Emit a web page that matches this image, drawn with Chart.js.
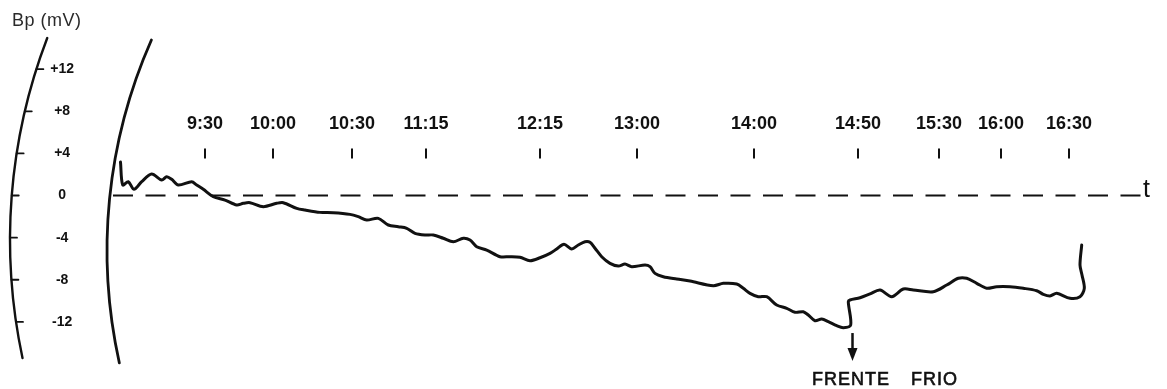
<!DOCTYPE html>
<html>
<head>
<meta charset="utf-8">
<script src="https://cdn.jsdelivr.net/npm/chart.js@4.4.1/dist/chart.umd.min.js"></script>
<style>
  html, body { margin: 0; padding: 0; background: #fff; }
  #wrap { width: 1167px; height: 389px; }
</style>
</head>
<body>
<div id="wrap"><canvas id="registro" width="1167" height="389"></canvas></div>
<script>
// Position along the recorder strip (arbitrary paper units) and potential Bp in mV
const posicion = [
  3.05, 3.27, 3.83, 4.40, 5.17, 6.17, 7.17, 7.67, 8.17, 8.83,
  10.17, 10.67, 11.33, 12.33, 13.5, 14.67, 15.33, 16.0, 17.33, 18.67,
  19.33, 20.67, 21.5, 23.0, 24.33, 26.0, 26.83, 27.67, 28.83, 29.83,
  30.83, 31.67, 32.5, 33.5, 34.33, 35.33, 36.33, 37.33, 38.0, 38.67,
  39.67, 41.0, 42.0, 43.0, 44.0, 45.0, 46.0, 46.67, 47.4, 48.17,
  48.83, 49.5, 50.0, 50.5, 51.17, 52.0, 52.83, 53.5, 54.17, 55.5,
  56.0, 56.5, 57.33, 58.67, 60.0, 62.33, 63.33, 64.67, 65.33, 66.0,
  66.83, 67.67, 68.67, 69.67, 70.5, 71.33, 71.83, 72.5, 73.17, 73.83,
  74.67, 75.33, 76.07, 75.83, 76.0, 77.0, 78.0, 79.0, 80.17, 81.33,
  82.33, 84.33, 85.67, 86.83, 87.67, 88.67, 89.67, 90.67, 92.0, 93.33,
  94.67, 95.33, 96.0, 96.67, 98.0, 99.0, 99.43, 99.2, 99.0, 99.17
];
const bp = [
  3.18, 1.00, 1.31, 0.59, 1.31, 2.04, 1.47, 1.79, 1.54, 1.00,
  1.31, 1.00, 0.59, -0.11, -0.43, -0.90, -0.74, -0.68, -1.06, -0.74,
  -0.68, -1.22, -1.38, -1.60, -1.63, -1.79, -2.01, -2.33, -2.17, -2.80,
  -2.96, -3.11, -3.59, -3.75, -3.75, -4.06, -4.39, -4.06, -4.23, -4.86,
  -5.18, -5.81, -5.81, -5.87, -6.19, -5.91, -5.49, -5.08, -4.63, -5.08,
  -4.70, -4.39, -4.44, -5.01, -5.81, -6.44, -6.70, -6.51, -6.76, -6.60,
  -6.76, -7.39, -7.71, -7.93, -8.12, -8.57, -8.34, -8.40, -8.81, -9.29,
  -9.61, -9.61, -10.40, -10.71, -11.09, -11.04, -11.35, -11.89, -11.73, -11.98,
  -12.36, -12.55, -12.30, -10.09, -9.92, -9.71, -9.34, -8.97, -9.61, -8.88,
  -8.97, -9.14, -8.50, -7.86, -7.86, -8.34, -8.81, -8.66, -8.66, -8.81,
  -9.04, -9.38, -9.54, -9.29, -9.76, -9.61, -8.81, -7.55, -6.60, -4.70
];

// Hour marks written on the strip
const marcasPos  = [11.5, 18.3, 26.2, 33.6, 45.0, 54.7, 66.4, 76.8, 84.9, 91.1, 97.9];
const marcasHora = ['9:30', '10:00', '10:30', '11:15', '12:15', '13:00', '14:00', '14:50', '15:30', '16:00', '16:30'];
const nivelMarcas = 4.0;

// Vertical scale of the recorder
const yTicks      = [12, 8, 4, 0, -4, -8, -12];
const yTickLabels = ['+12', '+8', '+4', '0', '-4', '-8', '-12'];

// Zero reference line and cold-front passage
const basePos   = [2.3, 105.3];
const baseValor = [0, 0];
const frentePos = 76.25;
const frenteTexto = ['FRENTE', 'FRIO'];

const FONT = '"Liberation Sans", Arial, sans-serif';

const decoracion = {
  id: 'decoracion',
  afterDraw(chart) {
    const ctx = chart.ctx;
    const ys = chart.scales.y, xs = chart.scales.x;
    const area = chart.chartArea;
    ctx.save();
    ctx.strokeStyle = '#111';
    ctx.fillStyle = '#111';
    ctx.lineCap = 'round';

    // curved recorder frame lines
    const arco = (leftX, R, cyVal, topVal, botVal, width) => {
      const cx = leftX + R;
      const cy = ys.getPixelForValue(cyVal);
      const yt = ys.getPixelForValue(topVal);
      const yb = ys.getPixelForValue(botVal);
      const aTop = Math.PI + Math.asin((cy - yt) / R);
      const aBot = Math.PI - Math.asin((yb - cy) / R);
      ctx.lineWidth = width;
      ctx.beginPath();
      ctx.arc(cx, cy, R, aBot, aTop, false);
      ctx.stroke();
      return { cx, cy, R };
    };
    const ext = arco(area.left - 80, 565, -4.2, 14.96, -15.43, 2.4);
    arco(area.left + 17, 520, -5.2, 14.77, -15.9, 2.8);

    // scale ticks on the outer arc
    ctx.lineWidth = 1.8;
    yTicks.forEach(v => {
      const y = ys.getPixelForValue(v);
      const x = ext.cx - Math.sqrt(ext.R * ext.R - (y - ext.cy) * (y - ext.cy));
      ctx.beginPath();
      ctx.moveTo(x, y);
      ctx.lineTo(x + 7, y);
      ctx.stroke();
    });

    // hour labels above the marks
    ctx.font = 'bold 18px ' + FONT;
    ctx.textAlign = 'center';
    ctx.textBaseline = 'middle';
    const yMarca = ys.getPixelForValue(nivelMarcas);
    marcasPos.forEach((p, i) => {
      ctx.fillText(marcasHora[i], xs.getPixelForValue(p), yMarca - 29.5);
    });

    // time axis letter
    ctx.font = '25px ' + FONT;
    ctx.textAlign = 'left';
    ctx.textBaseline = 'alphabetic';
    ctx.fillText('t', area.right - 17, ys.getPixelForValue(0) + 1.5);

    // units label
    ctx.fillStyle = '#2a2a2a';
    ctx.font = '18px ' + FONT;
    ctx.letterSpacing = '0.5px';
    ctx.fillText('Bp (mV)', 12, 26);

    // cold front arrow
    ctx.fillStyle = '#111';
    const ax = xs.getPixelForValue(frentePos);
    const y0 = ys.getPixelForValue(-13.06);
    const y1 = ys.getPixelForValue(-15.72);
    ctx.lineWidth = 2.5;
    ctx.lineCap = 'butt';
    ctx.beginPath();
    ctx.moveTo(ax, y0);
    ctx.lineTo(ax, y1 - 10);
    ctx.stroke();
    ctx.beginPath();
    ctx.moveTo(ax - 5, y1 - 13);
    ctx.lineTo(ax + 5, y1 - 13);
    ctx.lineTo(ax, y1);
    ctx.closePath();
    ctx.fill();

    ctx.font = '18px ' + FONT;
    ctx.letterSpacing = '1px';
    ctx.lineWidth = 0.6;
    ctx.fillText(frenteTexto[0], ax - 40.5, y1 + 24);
    ctx.strokeText(frenteTexto[0], ax - 40.5, y1 + 24);
    ctx.fillText(frenteTexto[1], ax + 58.5, y1 + 24);
    ctx.strokeText(frenteTexto[1], ax + 58.5, y1 + 24);
    ctx.restore();
  }
};

new Chart(document.getElementById('registro'), {
  type: 'scatter',
  data: {
    datasets: [
      {
        label: 'cero',
        data: basePos.map((x, i) => ({ x, y: baseValor[i] })),
        showLine: true,
        borderColor: '#111',
        borderWidth: 2,
        borderDash: [20, 12.5],
        pointRadius: 0
      },
      {
        label: 'Bp',
        data: posicion.map((x, i) => ({ x, y: bp[i] })),
        showLine: true,
        borderColor: '#111',
        borderWidth: 3,
        tension: 0.3,
        borderCapStyle: 'round',
        borderJoinStyle: 'round',
        pointRadius: 0
      },
      {
        label: 'horas',
        data: marcasPos.map(x => ({ x, y: nivelMarcas })),
        showLine: false,
        pointStyle: 'line',
        rotation: 90,
        radius: 5,
        borderWidth: 2,
        borderColor: '#111'
      }
    ]
  },
  options: {
    responsive: false,
    devicePixelRatio: 1,
    animation: false,
    events: [],
    layout: { padding: { left: 8, right: 7, top: 30, bottom: 9 } },
    plugins: { legend: { display: false }, tooltip: { enabled: false }, title: { display: false } },
    scales: {
      x: { type: 'linear', display: false, min: 0, max: 107 },
      y: {
        type: 'linear',
        min: -17.52,
        max: 15.72,
        afterBuildTicks: s => { s.ticks = yTicks.map(v => ({ value: v })); },
        afterFit: s => { s.width = 82; s.paddingTop = 0; s.paddingBottom = 0; },
        grid: { display: false, drawTicks: false },
        border: { display: false },
        ticks: {
          crossAlign: 'center',
          padding: 16,
          color: '#111',
          font: { family: FONT, size: 14, weight: 'bold' },
          callback: v => yTickLabels[yTicks.indexOf(v)]
        }
      }
    }
  },
  plugins: [decoracion]
});
</script>
</body>
</html>
